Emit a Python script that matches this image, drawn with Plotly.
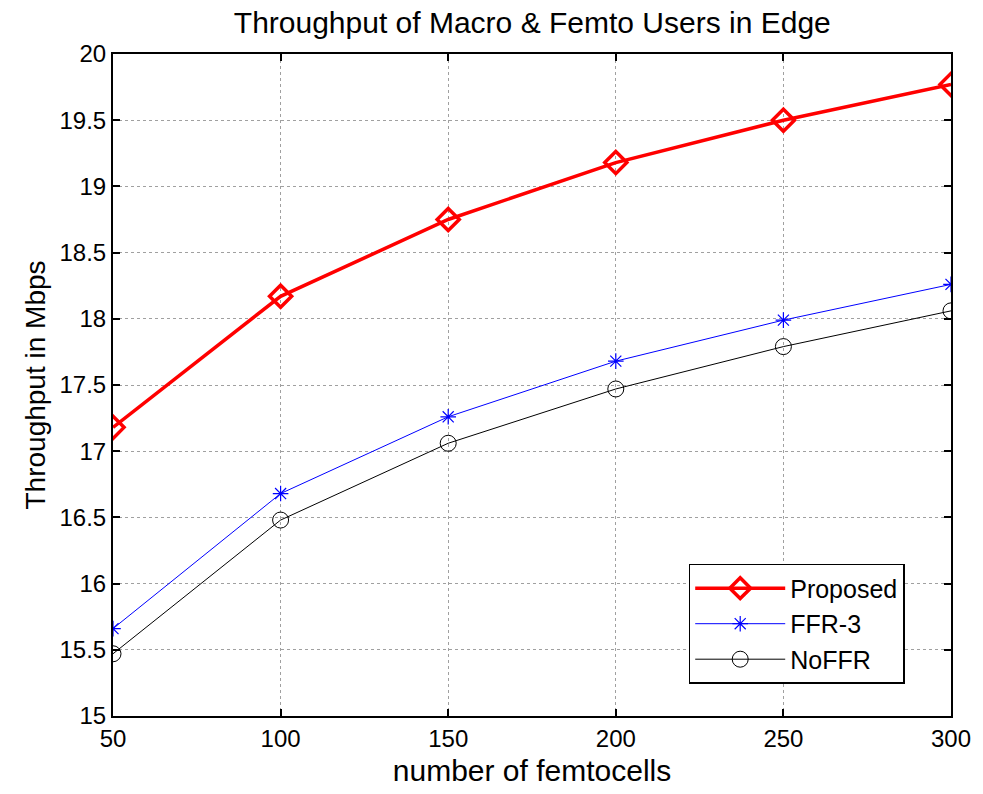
import plotly.graph_objects as go

femtocells = [50, 100, 150, 200, 250, 300]
proposed = [17.18, 18.17, 18.75, 19.18, 19.50, 19.77]
ffr3 = [15.66, 16.68, 17.26, 17.68, 17.99, 18.26]
noffr = [15.47, 16.48, 17.06, 17.47, 17.79, 18.06]

x_ticks = [50, 100, 150, 200, 250, 300]
y_ticks = [15, 15.5, 16, 16.5, 17, 17.5, 18, 18.5, 19, 19.5, 20]
y_tick_text = ["15", "15.5", "16", "16.5", "17", "17.5", "18", "18.5", "19", "19.5", "20"]

FONT = "Liberation Sans, Arial, sans-serif"

fig = go.Figure()
fig.add_trace(go.Scatter(
    x=femtocells, y=proposed, name="Proposed", mode="lines+markers",
    line=dict(color="#ff0000", width=3.5),
    marker=dict(symbol="diamond-open", size=17, color="#ff0000",
                line=dict(color="#ff0000", width=3.5)),
))
fig.add_trace(go.Scatter(
    x=femtocells, y=ffr3, name="FFR-3", mode="lines+markers",
    line=dict(color="#0000ff", width=1),
    marker=dict(symbol="asterisk-open", size=13, color="#0000ff",
                line=dict(color="#0000ff", width=1.2)),
))
fig.add_trace(go.Scatter(
    x=femtocells, y=noffr, name="NoFFR", mode="lines+markers",
    line=dict(color="#000000", width=1),
    marker=dict(symbol="circle-open", size=16, color="#000000",
                line=dict(color="#000000", width=1)),
))

axis_common = dict(
    showline=True, linecolor="black", linewidth=2, mirror="ticks",
    ticks="inside", ticklen=7, tickcolor="black", tickwidth=1.5,
    showgrid=True, gridcolor="#a0a0a0", griddash="dot", gridwidth=1,
    zeroline=False, tickfont=dict(family=FONT, size=24, color="black"),
)

fig.update_layout(
    width=983, height=794,
    paper_bgcolor="white", plot_bgcolor="white",
    margin=dict(l=113, r=23, t=54, b=74),
    title=dict(text="Throughput of Macro & Femto Users in Edge",
               x=0.5415, xanchor="center", y=0.972, yanchor="middle",
               font=dict(family=FONT, size=30, color="black")),
    xaxis=dict(range=[50, 300], tickvals=x_ticks, ticktext=[str(v) for v in x_ticks],
               title=dict(text="number of femtocells", standoff=9,
                          font=dict(family=FONT, size=30, color="black")),
               **axis_common),
    yaxis=dict(range=[15, 20], tickvals=y_ticks, ticktext=y_tick_text,
               title=dict(text="Throughput in Mbps", standoff=6,
                          font=dict(family=FONT, size=28, color="black")),
               **axis_common),
    legend=dict(x=0.687, y=0.2297, xanchor="left", yanchor="top",
                bgcolor="white", bordercolor="black", borderwidth=1.5,
                font=dict(family=FONT, size=25, color="black"),
                itemwidth=90, tracegroupgap=2),
    showlegend=True,
)

fig.write_html("out.html")
